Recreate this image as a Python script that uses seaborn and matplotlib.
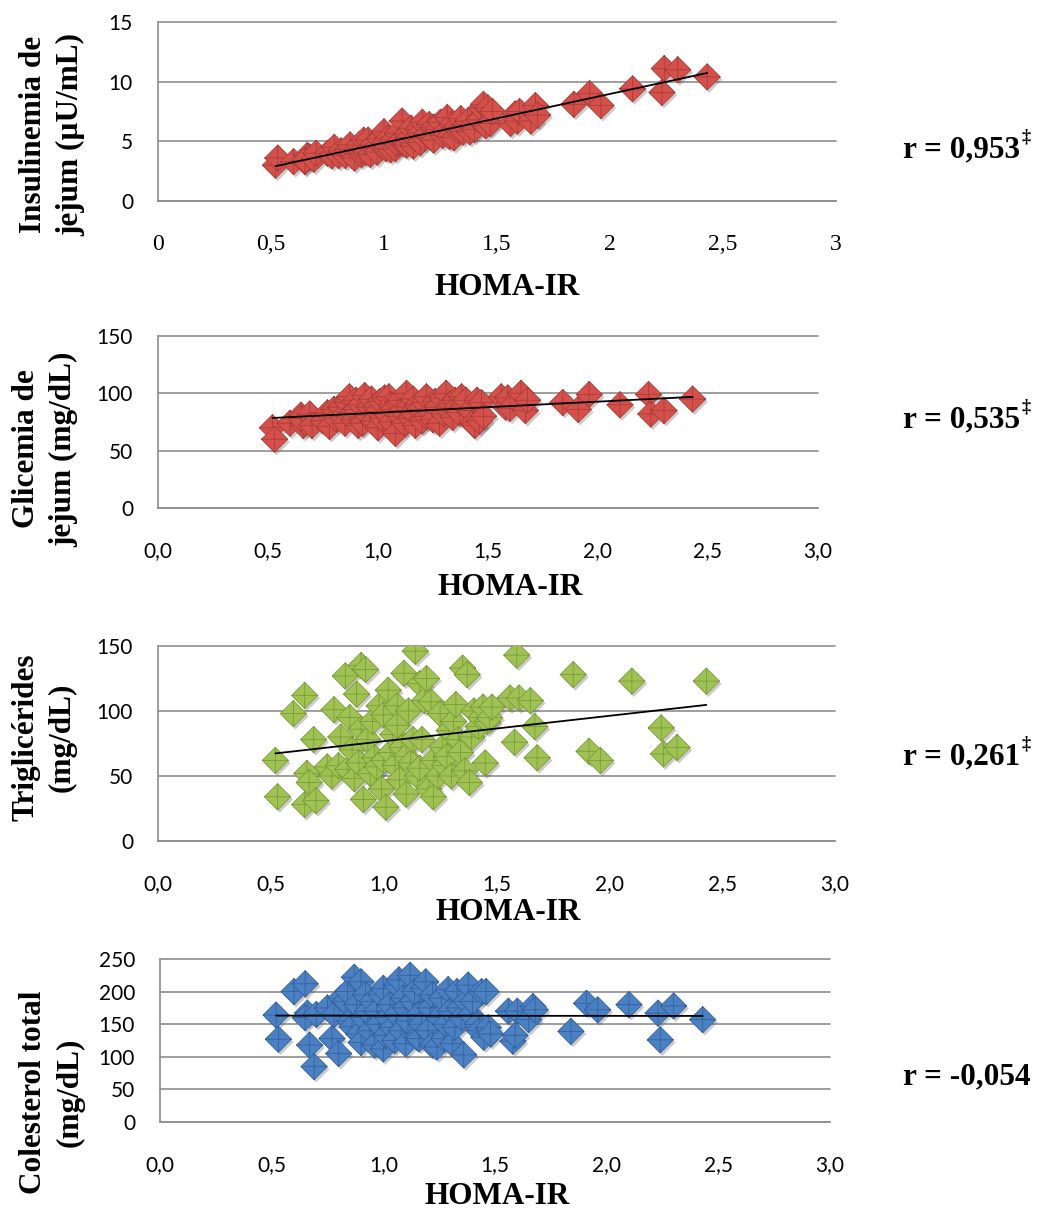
import numpy as np
import pandas as pd
import matplotlib
matplotlib.use("Agg")
import matplotlib.pyplot as plt
import matplotlib.patheffects as pe
from matplotlib.path import Path
import seaborn as sns

# one row per subject: HOMA-IR and the four biochemical variables
homa_ir = [0.52, 0.53, 0.60, 0.65, 0.66, 0.67, 0.65, 0.69, 0.70,
           0.75, 0.77, 0.78, 0.80, 0.81, 0.83, 0.84, 0.85, 0.86, 0.87,
           0.88, 0.89, 0.90, 0.90, 0.91, 0.92, 0.93, 0.94, 0.95, 0.96,
           0.97, 0.98, 0.99, 1.00, 1.00, 1.01, 1.02, 1.03, 1.04, 1.05,
           1.06, 1.06, 1.07, 1.08, 1.09, 1.10, 1.10, 1.11, 1.12, 1.13,
           1.14, 1.15, 1.16, 1.16, 1.17, 1.18, 1.19, 1.20, 1.21, 1.22,
           1.22, 1.24, 1.25, 1.26, 1.27, 1.28, 1.29, 1.30, 1.31, 1.32,
           1.33, 1.34, 1.35, 1.36, 1.37, 1.38, 1.39, 1.40, 1.42, 1.43,
           1.44, 1.45, 1.46, 1.47, 1.48,
           1.56, 1.58, 1.59, 1.60, 1.65, 1.67, 1.68, 1.84, 1.91, 1.96,
           2.10, 2.23, 2.24, 2.30, 2.43]

insulinemia = [3.0, 3.6, 3.3, 3.3, 3.8, 3.7, 3.4, 3.5, 4.0,
               4.0, 3.8, 4.5, 3.8, 4.2, 3.8, 4.3, 4.7, 3.8, 3.6,
               4.3, 4.7, 3.9, 4.2, 5.1, 4.1, 5.1, 3.9, 4.7, 4.4,
               4.1, 5.2, 4.6, 4.8, 5.8, 4.4, 5.3, 4.3, 5.1, 4.4,
               5.7, 4.8, 5.0, 6.7, 4.8, 5.6, 4.7, 5.3, 6.1, 4.6,
               5.2, 6.0, 5.7, 4.9, 6.6, 5.3, 5.6, 6.4, 5.3, 6.2,
               5.1, 6.0, 6.6, 5.5, 5.8, 7.0, 5.4, 6.4, 5.3, 6.2,
               5.9, 6.9, 5.8, 6.3, 6.7, 5.8, 6.3, 6.0, 6.8, 7.8,
               8.1, 6.3, 7.8, 6.5, 7.5,
               6.5, 7.3, 6.7, 7.5, 6.7, 8.0, 7.2, 8.1, 9.0, 8.0,
               9.4, 9.1, 11.1, 11.0, 10.4]

glicemia = [70, 60, 74, 81, 72, 74, 78, 82, 72,
            76, 83, 71, 86, 78, 88, 80, 74, 92, 97,
            83, 77, 94, 86, 72, 90, 74, 98, 81, 88,
            95, 76, 88, 84, 70, 93, 78, 96, 82, 97,
            75, 90, 86, 65, 92, 80, 94, 85, 74, 100,
            88, 78, 83, 95, 72, 90, 86, 76, 92, 80,
            97, 84, 77, 93, 88, 74, 96, 82, 100, 86,
            91, 79, 94, 88, 83, 97, 90, 94, 85, 74,
            72, 94, 76, 92, 80,
            97, 88, 96, 87, 100, 85, 94, 92, 86, 99,
            90, 99, 82, 85, 95]

triglicerides = [62, 34, 98, 112, 52, 45, 28, 78, 31,
                 57, 50, 101, 58, 80, 127, 55, 95, 70, 48,
                 113, 60, 135, 86, 32, 132, 78, 52, 92, 64,
                 57, 104, 40, 97, 62, 26, 116, 68, 82, 58,
                 104, 89, 47, 72, 129, 65, 36, 100, 60, 78,
                 146, 50, 121, 56, 78, 108, 125, 40, 107, 34,
                 62, 50, 98, 72, 58, 65, 85, 50, 92, 105,
                 78, 68, 133, 54, 128, 45, 80, 100, 88, 95,
                 103, 60, 92, 95, 103,
                 110, 76, 143, 110, 108, 88, 64, 128, 69, 62,
                 123, 87, 67, 72, 123]

colesterol = [164, 127, 200, 212, 167, 118, 160, 85, 165,
              175, 128, 165, 105, 190, 185, 200, 155, 146, 222,
              180, 135, 215, 122, 160, 195, 170, 140, 185, 118,
              170, 150, 195, 205, 112, 133, 160, 180, 145, 125,
              210, 165, 218, 140, 190, 175, 120, 155, 225, 185,
              200, 130, 128, 165, 150, 205, 215, 140, 175, 118,
              195, 115, 160, 190, 128, 150, 203, 170, 120, 145,
              200, 175, 160, 103, 185, 210, 165, 185, 150, 140,
              200, 130, 200, 145, 135,
              170, 124, 133, 170, 157, 177, 172, 139, 182, 172,
              180, 167, 126, 178, 157]

x_ticks = [0, 0.5, 1, 1.5, 2, 2.5, 3]
x_labels_first = ["0", "0,5", "1", "1,5", "2", "2,5", "3"]
x_labels_other = ["0,0", "0,5", "1,0", "1,5", "2,0", "2,5", "3,0"]
y_ticks_ins = [0, 5, 10, 15]
y_ticks_glic = [0, 50, 100, 150]
y_ticks_trig = [0, 50, 100, 150]
y_ticks_col = [0, 50, 100, 150, 200, 250]

y_titles = ["Insulinemia de\njejum (µU/mL)", "Glicemia de\njejum (mg/dL)",
            "Triglicérides\n(mg/dL)", "Colesterol total\n(mg/dL)"]
r_texts = ["r = 0,953", "r = 0,535", "r = 0,261", "r = -0,054"]
r_marks = ["‡", "‡", "‡", ""]

W, H = 1040, 1214
GRAY = "#8e8e8e"
SERIF = "Liberation Serif"
SANS = "Lato"


def fx(px):
    return px / W


def fy(py):
    return 1 - py / H


# diamond with ridge lines, gives the little pyramid look
diamond = Path(
    [(0, 1), (1, 0), (0, -1), (-1, 0), (0, 1),
     (0, 0), (0, 1), (0, 0), (1, 0), (0, 0), (0, -1), (0, 0), (-1, 0)],
    [Path.MOVETO, Path.LINETO, Path.LINETO, Path.LINETO, Path.CLOSEPOLY,
     Path.MOVETO, Path.LINETO, Path.MOVETO, Path.LINETO,
     Path.MOVETO, Path.LINETO, Path.MOVETO, Path.LINETO])

sns.set_style("white")
fig = plt.figure(figsize=(W / 100, H / 100), dpi=100)

# left, top, right, bottom of each plot area in pixels
panels = [
    dict(vals=insulinemia, rect=(158, 22, 836, 201), ymax=15, yt=y_ticks_ins,
         xl=x_labels_first, xfont=SERIF, xsize=17, face="#d4504b", edge="#a83b37",
         ylab=(52, 134), xlab=(507, 287), rpos=(903, 150)),
    dict(vals=glicemia, rect=(158, 336, 818, 508), ymax=150, yt=y_ticks_glic,
         xl=x_labels_other, xfont=SANS, xsize=15, face="#d4504b", edge="#a83b37",
         ylab=(45, 449), xlab=(510, 587), rpos=(903, 420)),
    dict(vals=triglicerides, rect=(158, 646, 835, 841), ymax=150, yt=y_ticks_trig,
         xl=x_labels_other, xfont=SANS, xsize=15, face="#a0c254", edge="#789a35",
         ylab=(44, 737), xlab=(508, 913), rpos=(903, 757)),
    dict(vals=colesterol, rect=(160, 959, 830, 1122), ymax=250, yt=y_ticks_col,
         xl=x_labels_other, xfont=SANS, xsize=15, face="#4b80c2", edge="#31609c",
         ylab=(52, 1092), xlab=(497, 1197), rpos=(903, 1077)),
]

for i, p in enumerate(panels):
    l, t, r, b = p["rect"]
    ax = fig.add_axes([fx(l), fy(b), (r - l) / W, (b - t) / H])

    sns.scatterplot(x=homa_ir, y=p["vals"], ax=ax, marker=diamond, s=360,
                    color=p["face"], edgecolor=p["edge"], linewidth=0.55, zorder=3)
    ax.collections[-1].set_path_effects([
        pe.SimplePatchShadow(offset=(1.5, -2), shadow_rgbFace="#555555", alpha=0.3),
        pe.Normal()])
    sns.regplot(x=homa_ir, y=p["vals"], ax=ax, scatter=False, ci=None, truncate=True,
                color="black", line_kws={"linewidth": 1.3, "zorder": 4})

    ax.set_xlim(0, 3)
    ax.set_ylim(0, p["ymax"])
    ax.set_xticks(x_ticks)
    ax.set_xticklabels(p["xl"], fontfamily=p["xfont"], fontsize=p["xsize"])
    ax.set_yticks(p["yt"])
    ax.set_yticklabels([str(v) for v in p["yt"]], fontfamily=SANS, fontsize=15)
    ax.set_xlabel("")
    ax.set_ylabel("")

    ax.grid(axis="y", color=GRAY, linewidth=1.2)
    ax.grid(axis="x", visible=False)
    for gl in ax.get_ygridlines():
        gl.set_clip_on(False)
    ax.set_axisbelow(True)
    for s in ["top", "right"]:
        ax.spines[s].set_visible(False)
    for s in ["left", "bottom"]:
        ax.spines[s].set_color(GRAY)
        ax.spines[s].set_linewidth(1.2)
    ax.tick_params(axis="x", direction="out", length=5, width=1.2, color=GRAY,
                   pad=19, labelcolor="black")
    ax.tick_params(axis="y", direction="out", length=5, width=1.2, color=GRAY,
                   pad=13, labelcolor="black")

    fig.text(fx(p["ylab"][0]), fy(p["ylab"][1]), y_titles[i], rotation=90,
             ha="center", va="center", multialignment="center", linespacing=1.35,
             family=SERIF, fontweight="bold", fontsize=22.5, color="black")
    fig.text(fx(p["xlab"][0]), fy(p["xlab"][1]), "HOMA-IR", ha="center", va="center",
             family=SERIF, fontweight="bold", fontsize=22.5, color="black")
    rt = fig.text(fx(p["rpos"][0]), fy(p["rpos"][1]), r_texts[i], ha="left", va="center",
                  family=SERIF, fontweight="bold", fontsize=22.5, color="black")
    if r_marks[i]:
        ax.annotate(r_marks[i], xy=(1.0, 1.0), xycoords=rt, xytext=(1, 5),
                    textcoords="offset points", ha="left", va="top",
                    family=SERIF, fontweight="bold", fontsize=13, color="black",
                    annotation_clip=False)

fig.savefig("out.png", dpi=100)
